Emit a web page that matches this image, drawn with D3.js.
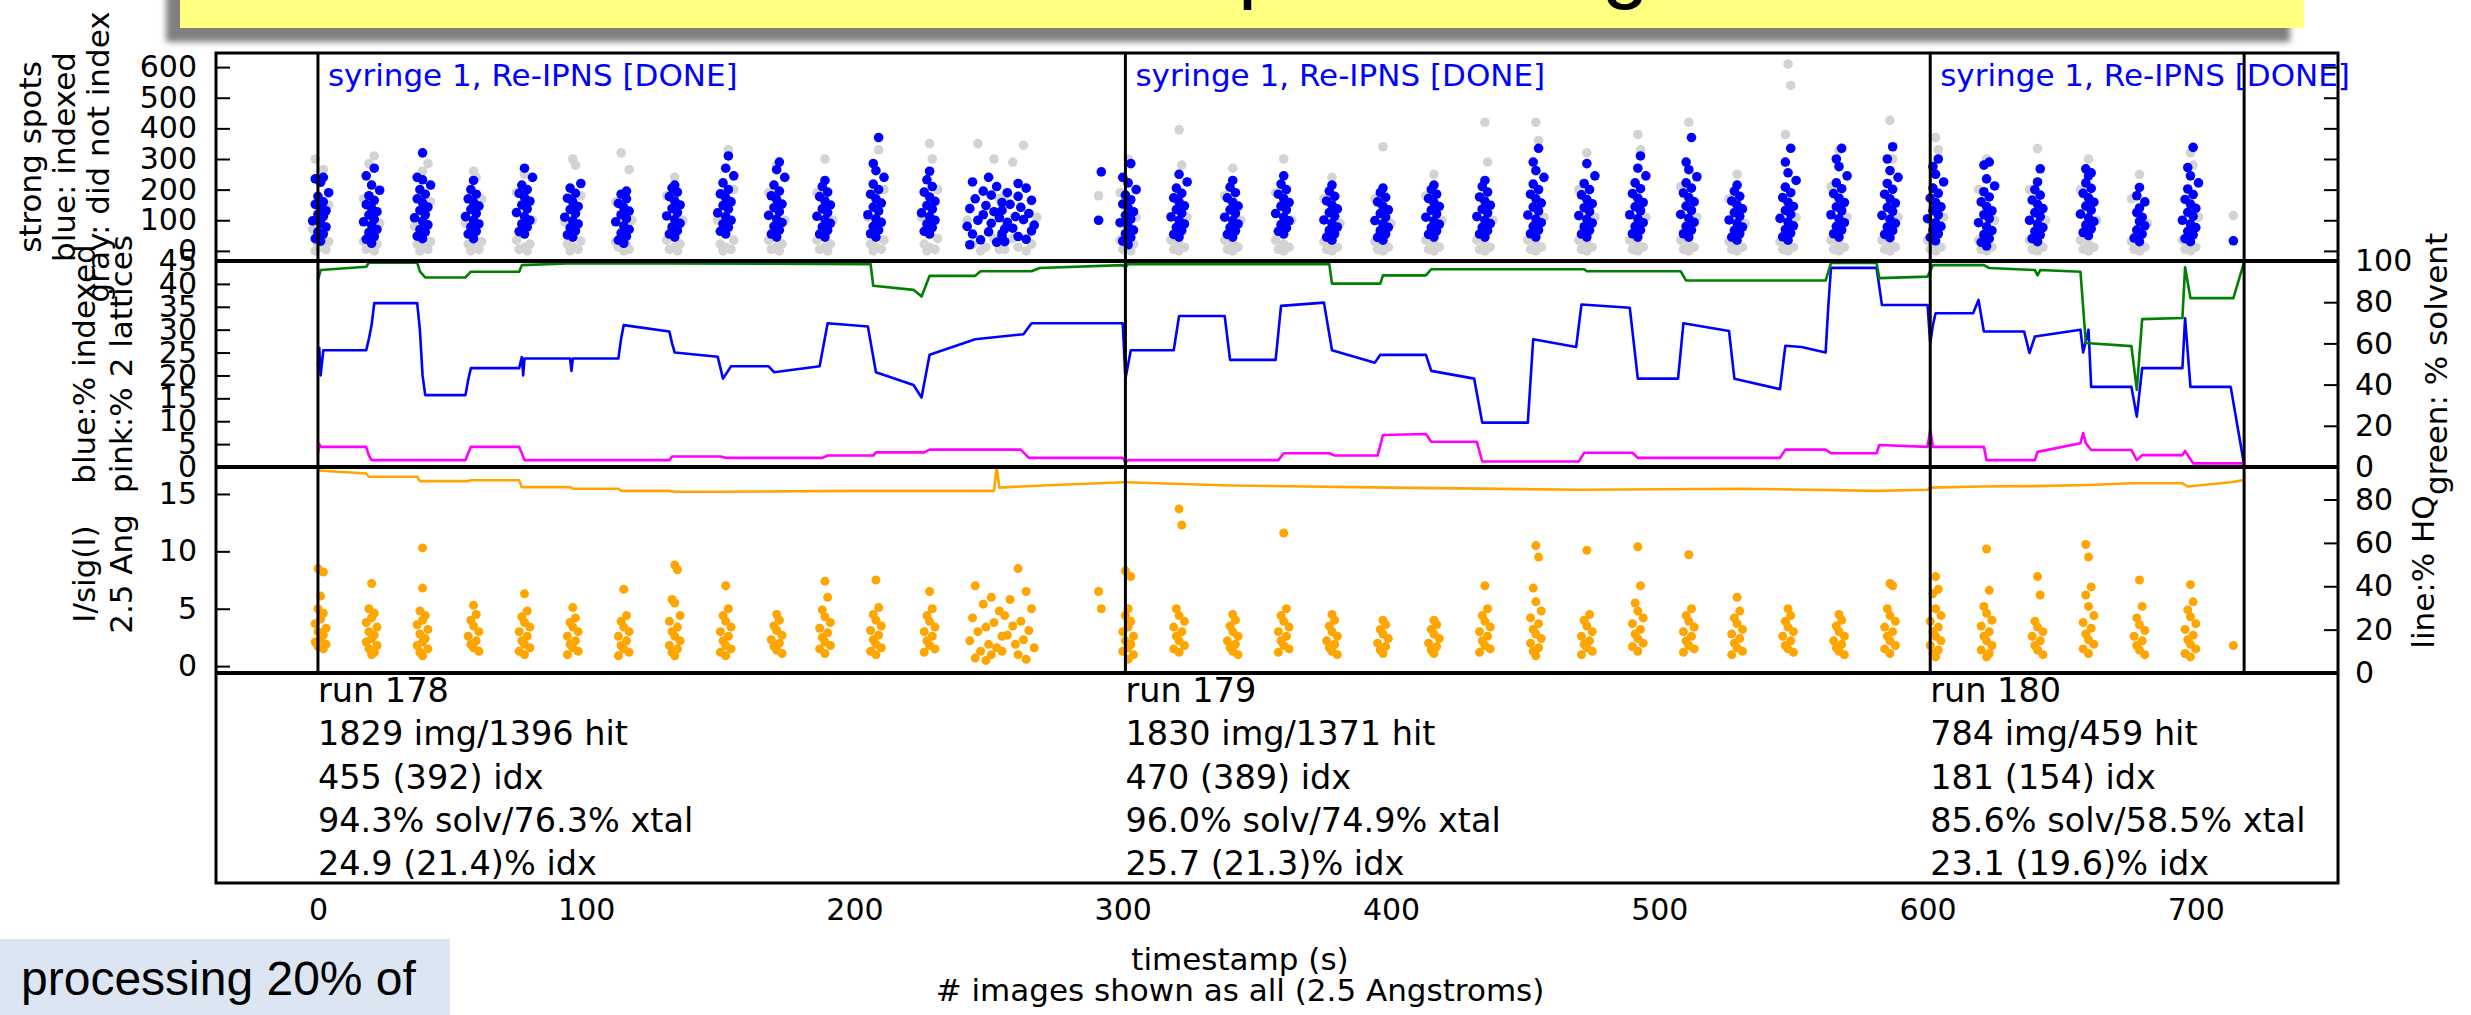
<!DOCTYPE html>
<html>
<head>
<meta charset="utf-8">
<script src="https://cdn.jsdelivr.net/npm/d3@7"></script>
<style>
body { margin: 0; background: #fff; }
svg { display: block; }
</style>
</head>
<body>
<svg id="chart"></svg>
<script>
// ---------------- data ----------------
var runStarts = [0, 301, 601], runEnd = 718;
var runStats = [
  ["run 178", "1829 img/1396 hit", "455 (392) idx", "94.3% solv/76.3% xtal", "24.9 (21.4)% idx"],
  ["run 179", "1830 img/1371 hit", "470 (389) idx", "96.0% solv/74.9% xtal", "25.7 (21.3)% idx"],
  ["run 180", "784 img/459 hit", "181 (154) idx", "85.6% solv/58.5% xtal", "23.1 (19.6)% idx"]
];
var syringeText = "syringe 1, Re-IPNS [DONE]";
var timeTicks = [0, 100, 200, 300, 400, 500, 600, 700];
var spotTicks = [0, 100, 200, 300, 400, 500, 600];
var pctTicks = [0, 5, 10, 15, 20, 25, 30, 35, 40, 45];
var solventTicks = [0, 20, 40, 60, 80, 100];
var isigTicks = [0, 5, 10, 15];
var hqTicks = [0, 20, 40, 60, 80];

// time of each burst of hits (s)
var burstTimes = [1, 20, 39, 58, 77, 95, 114, 133, 152, 171, 189, 208, 228, 249, 261, 291,
  302, 321, 341, 360, 378, 397, 416, 435, 454, 473, 492, 511, 529, 548, 567, 586,
  603, 622, 641, 660, 679, 698, 714];

// strong spots of indexed images, per burst: [offset s, spots]
var indexedSpots = [
  [[0,32],[-2,40],[1,55],[-1,62],[2,78],[0,90],[-3,98],[1,112],[-1,120],[2,131],[0,145],[-2,152],[1,160],[-1,178],[3,190],[0,224],[-2,235],[1,240]],
  [[0,25],[-2,38],[1,47],[-1,60],[2,70],[0,84],[-3,95],[1,103],[-1,117],[2,128],[0,140],[-2,151],[1,165],[-1,180],[3,198],[0,215],[-2,245],[1,270]],
  [[0,40],[-2,48],[1,62],[-1,70],[2,85],[0,97],[-3,108],[1,118],[-1,132],[2,143],[0,157],[-2,170],[1,185],[-1,200],[3,215],[0,232],[-2,240],[0,320]],
  [[0,40],[-2,55],[1,64],[-1,78],[2,88],[0,100],[-3,112],[1,122],[-1,135],[2,146],[0,158],[-2,170],[1,185],[-1,200],[0,230]],
  [[0,55],[-2,63],[1,78],[-1,88],[2,100],[0,112],[-3,125],[1,137],[-1,150],[2,162],[0,175],[-2,188],[1,200],[-1,215],[3,240],[0,270]],
  [[0,45],[-2,52],[1,65],[-1,75],[2,88],[0,98],[-3,110],[1,122],[-1,135],[2,145],[0,160],[-2,172],[1,188],[-1,205],[3,220]],
  [[0,25],[-2,35],[1,48],[-1,58],[2,70],[0,82],[-3,95],[1,105],[-1,118],[2,130],[0,142],[-2,155],[1,170],[-1,185],[1,195]],
  [[0,45],[-2,55],[1,66],[-1,78],[2,90],[0,102],[-3,114],[1,125],[-1,138],[2,150],[0,163],[-2,177],[1,192],[-1,205],[0,215]],
  [[0,55],[-2,64],[1,77],[-1,88],[2,100],[0,112],[-3,124],[1,136],[-1,148],[2,160],[0,173],[-2,186],[1,200],[-1,222],[3,245],[0,270],[1,310]],
  [[0,45],[-2,55],[1,68],[-1,80],[2,92],[0,104],[-3,116],[1,128],[-1,141],[2,153],[0,167],[-2,180],[1,195],[-1,215],[3,240],[0,265],[1,290]],
  [[0,45],[-2,55],[1,67],[-1,78],[2,90],[0,102],[-3,113],[1,125],[-1,137],[2,150],[0,163],[-2,177],[1,192],[-1,210],[0,230]],
  [[0,45],[-2,56],[1,68],[-1,80],[2,93],[0,105],[-3,118],[1,130],[-1,143],[2,156],[0,170],[-2,185],[1,200],[-1,218],[3,240],[0,262],[-1,285],[1,370]],
  [[0,55],[-2,64],[1,76],[-1,88],[2,100],[0,112],[-3,124],[1,136],[-1,148],[2,162],[0,176],[-2,192],[1,210],[-1,232],[0,260]],
  [[-6,20],[4,28],[-2,36],[6,45],[-5,55],[1,62],[7,72],[-7,80],[2,90],[-3,100],[5,108],[-1,118],[3,128],[-6,138],[0,148],[6,158],[-4,170],[2,182],[-1,195],[4,210],[-5,225],[1,240]],
  [[-5,30],[3,38],[0,47],[-6,56],[5,65],[-2,74],[6,84],[-4,93],[2,102],[-1,112],[4,122],[-6,132],[1,142],[-3,152],[5,165],[0,178],[-4,190],[3,205],[0,220]],
  [[0,100],[1,258]],
  [[0,20],[-2,32],[1,44],[-1,56],[2,68],[0,80],[-3,92],[1,104],[-1,116],[2,128],[0,140],[-2,153],[1,167],[-1,182],[3,200],[0,222],[-2,240],[1,285]],
  [[0,45],[-2,54],[1,66],[-1,77],[2,88],[0,100],[-3,111],[1,123],[-1,135],[2,147],[0,160],[-2,173],[1,188],[-1,205],[3,225],[0,250]],
  [[0,45],[-2,54],[1,65],[-1,76],[2,88],[0,99],[-3,110],[1,122],[-1,134],[2,146],[0,159],[-2,173],[1,190],[-1,208],[0,230]],
  [[0,55],[-2,64],[1,75],[-1,86],[2,98],[0,110],[-3,122],[1,134],[-1,146],[2,158],[0,171],[-2,185],[1,200],[-1,218],[0,245]],
  [[0,35],[-2,45],[1,56],[-1,67],[2,78],[0,90],[-3,101],[1,113],[-1,125],[2,137],[0,150],[-2,163],[1,178],[-1,195],[0,215]],
  [[0,35],[-2,44],[1,55],[-1,66],[2,77],[0,88],[-3,99],[1,110],[-1,122],[2,134],[0,146],[-2,160],[1,175],[-1,190],[0,205]],
  [[0,45],[-2,54],[1,65],[-1,76],[2,87],[0,98],[-3,110],[1,121],[-1,133],[2,145],[0,158],[-2,171],[1,185],[-1,200],[0,215]],
  [[0,45],[-2,55],[1,66],[-1,77],[2,89],[0,100],[-3,112],[1,124],[-1,136],[2,149],[0,162],[-2,176],[1,192],[-1,210],[0,230]],
  [[0,45],[-2,56],[1,68],[-1,80],[2,92],[0,104],[-3,117],[1,130],[-1,143],[2,156],[0,170],[-2,185],[1,200],[-1,218],[3,240],[0,262],[-1,290],[1,335]],
  [[0,45],[-2,55],[1,67],[-1,79],[2,91],[0,103],[-3,115],[1,128],[-1,141],[2,154],[0,168],[-2,183],[1,200],[-1,220],[3,245],[0,285]],
  [[0,45],[-2,56],[1,68],[-1,80],[2,92],[0,105],[-3,118],[1,131],[-1,144],[2,158],[0,172],[-2,187],[1,203],[-1,222],[3,245],[0,270],[1,310]],
  [[0,45],[-2,56],[1,68],[-1,80],[2,93],[0,106],[-3,119],[1,132],[-1,146],[2,160],[0,174],[-2,189],[1,205],[-1,222],[3,242],[0,265],[-1,290],[1,370]],
  [[0,35],[-2,45],[1,56],[-1,67],[2,78],[0,90],[-3,101],[1,113],[-1,125],[2,137],[0,150],[-2,163],[1,178],[-1,195],[0,215]],
  [[0,35],[-2,46],[1,58],[-1,70],[2,82],[0,94],[-3,106],[1,119],[-1,132],[2,145],[0,159],[-2,174],[1,190],[-1,208],[3,230],[0,255],[-1,290],[1,335]],
  [[0,45],[-2,56],[1,68],[-1,80],[2,92],[0,105],[-3,118],[1,131],[-1,144],[2,158],[0,172],[-2,187],[1,203],[-1,222],[3,245],[0,275],[-1,300],[1,335]],
  [[0,43],[-2,54],[1,66],[-1,78],[2,90],[0,103],[-3,116],[1,129],[-1,142],[2,156],[0,170],[-2,185],[1,201],[-1,220],[3,240],[0,262],[-1,300],[1,340]],
  [[0,33],[-2,44],[1,56],[-1,68],[2,80],[0,92],[-3,105],[1,118],[-1,131],[2,144],[0,158],[-2,172],[1,188],[-1,205],[3,225],[0,250],[-1,275],[1,300]],
  [[0,16],[-2,28],[1,40],[-1,53],[2,66],[0,79],[-3,92],[1,105],[-1,118],[2,131],[0,145],[-2,160],[1,176],[-1,193],[3,212],[0,235],[-1,280],[1,290]],
  [[0,30],[-2,40],[1,52],[-1,64],[2,76],[0,88],[-3,100],[1,112],[-1,125],[2,138],[0,152],[-2,166],[1,182],[-1,200],[0,225],[1,268]],
  [[0,50],[-2,60],[1,72],[-1,84],[2,96],[0,108],[-3,120],[1,133],[-1,146],[2,159],[0,173],[-2,188],[1,204],[-1,222],[0,245],[1,255],[-1,268]],
  [[0,30],[-2,42],[1,55],[-1,68],[2,82],[0,96],[1,110],[-1,125],[0,140],[2,160],[-1,180],[0,207]],
  [[0,30],[-2,40],[1,52],[-1,64],[2,76],[0,88],[-3,100],[1,113],[-1,126],[2,139],[0,153],[-2,168],[1,184],[-1,202],[3,222],[0,245],[-1,272],[1,338]],
  [[0,33]]
];

// strong spots of images that did not index, per burst
var unindexedSpots = [
  [[-2,0],[2,4],[0,12],[-1,22],[3,30],[-3,70],[3,150],[-2,300],[1,265]],
  [[1,0],[-2,5],[0,12],[2,22],[-3,30],[3,90],[-3,170],[1,310],[-1,285]],
  [[-1,0],[2,5],[0,12],[-2,22],[3,30],[-3,80],[3,160],[2,285],[0,260]],
  [[-1,0],[2,5],[0,12],[-2,22],[3,30],[-3,90],[3,170],[0,260],[1,240]],
  [[1,0],[-2,5],[0,12],[2,22],[-3,35],[3,100],[-3,190],[0,250]],
  [[-1,0],[2,5],[0,12],[-2,22],[3,32],[-3,95],[3,180],[0,300],[1,280]],
  [[0,0],[2,5],[-2,12],[1,22],[-3,30],[3,100],[-3,160],[-1,320],[2,265]],
  [[1,0],[-2,5],[0,12],[2,22],[-3,35],[3,100],[-3,180],[0,240]],
  [[-1,0],[2,5],[0,12],[-2,22],[3,35],[-3,100],[3,200],[1,330]],
  [[1,0],[-2,5],[0,12],[2,22],[-3,35],[3,100],[-3,190],[0,280]],
  [[1,0],[-2,5],[0,12],[2,22],[-3,35],[3,100],[-3,190],[0,300]],
  [[-1,0],[2,5],[0,12],[-2,22],[3,35],[-3,110],[3,200],[1,330]],
  [[-1,0],[2,5],[0,12],[-2,22],[3,40],[-3,110],[3,200],[1,300],[0,350]],
  [[-2,0],[5,5],[0,12],[-5,22],[3,40],[-7,100],[7,180],[3,300],[-3,350]],
  [[3,0],[-5,5],[0,12],[5,22],[-2,40],[7,110],[-7,170],[-2,290],[2,345]],
  [[0,180]],
  [[1,0],[-2,5],[0,12],[2,22],[-3,35],[3,110],[-3,190],[0,300]],
  [[0,0],[-2,5],[2,12],[0,22],[-3,35],[3,110],[1,280],[0,395]],
  [[0,0],[-2,5],[2,12],[0,22],[-3,35],[3,100],[-3,180],[0,270]],
  [[0,0],[-2,5],[2,12],[0,22],[-3,35],[3,100],[-3,190],[0,300]],
  [[0,0],[-2,5],[2,12],[0,22],[-3,30],[3,90],[-3,170],[0,240]],
  [[0,0],[-2,5],[2,12],[0,22],[-3,30],[3,90],[-3,170],[0,340]],
  [[0,0],[-2,5],[2,12],[0,22],[-3,35],[3,100],[-3,180],[0,250]],
  [[0,0],[-2,5],[2,12],[0,22],[-3,35],[3,100],[1,290],[0,420]],
  [[0,0],[-2,5],[2,12],[0,22],[-3,35],[3,110],[1,360],[0,420]],
  [[0,0],[-2,5],[2,12],[0,22],[-3,35],[3,110],[-3,200],[0,320]],
  [[0,0],[-2,5],[2,12],[0,22],[-3,35],[3,110],[1,330],[0,380]],
  [[0,0],[-2,5],[2,12],[0,22],[-3,35],[3,110],[-3,210],[0,420]],
  [[0,0],[-2,5],[2,12],[0,22],[-3,30],[3,90],[-3,170],[0,250]],
  [[0,0],[-2,5],[2,12],[0,22],[-3,30],[3,110],[-1,380],[1,540],[0,610]],
  [[0,0],[-2,5],[2,12],[0,22],[-3,35],[3,110],[-3,210],[0,330]],
  [[0,0],[-2,5],[2,12],[0,22],[-3,35],[3,110],[1,300],[0,426]],
  [[0,0],[-2,5],[2,12],[0,22],[-3,35],[3,110],[1,330],[0,370]],
  [[0,0],[-2,5],[2,12],[0,22],[-3,35],[3,100],[-3,200],[0,300]],
  [[0,0],[-2,5],[2,12],[0,22],[-3,35],[3,100],[-3,200],[0,334]],
  [[0,0],[-2,5],[2,12],[0,22],[-3,35],[3,100],[-3,200],[0,300]],
  [[0,0],[-2,5],[2,12],[0,22],[-3,30],[3,90],[-3,170],[0,250]],
  [[0,0],[-2,5],[2,12],[0,22],[-3,35],[3,110],[1,280],[0,320]],
  [[0,115]]
];

// I/sig(I) at 2.5 Angstrom, per burst
var isigPoints = [
  [[-1,8.5],[1,8.2],[0,6.1],[-1,5.0],[1,4.6],[0,4.1],[-2,3.7],[2,3.3],[-1,3.0],[1,2.7],[0,2.4],[-2,2.1],[2,1.9],[-1,1.7],[1,1.5]],
  [[0,7.2],[-1,5.0],[1,4.6],[0,4.2],[-2,3.8],[2,3.4],[-1,3.0],[1,2.7],[0,2.4],[-2,2.1],[2,1.8],[-1,1.5],[1,1.2],[0,1.0]],
  [[0,10.3],[0,6.8],[-1,4.8],[1,4.4],[0,4.0],[-2,3.6],[2,3.2],[-1,2.8],[1,2.4],[0,2.1],[-2,1.8],[2,1.5],[-1,1.2],[0,0.9]],
  [[0,5.3],[1,4.5],[-1,4.0],[0,3.5],[2,3.0],[-2,2.6],[1,2.2],[-1,1.9],[0,1.6],[2,1.3]],
  [[0,6.3],[1,4.8],[-1,4.3],[0,3.8],[2,3.4],[-2,3.0],[1,2.6],[-1,2.2],[0,1.9],[2,1.6],[-2,1.3],[0,1.0]],
  [[0,5.1],[1,4.2],[-1,3.8],[0,3.4],[2,3.0],[-2,2.6],[1,2.2],[-1,1.9],[0,1.6],[2,1.3],[-2,1.0]],
  [[0,6.7],[1,4.4],[-1,3.9],[0,3.4],[2,3.0],[-2,2.6],[1,2.2],[-1,1.8],[0,1.5],[2,1.2],[-2,0.9]],
  [[0,8.8],[1,8.4],[-1,5.8],[0,5.5],[2,4.4],[-2,3.9],[1,3.4],[-1,3.0],[0,2.6],[2,2.2],[-2,1.8],[1,1.5],[-1,1.2],[0,0.9]],
  [[0,7.0],[1,5.0],[-1,4.4],[0,3.9],[2,3.4],[-2,3.0],[1,2.6],[-1,2.2],[0,1.8],[2,1.5],[-2,1.2],[0,0.9]],
  [[0,4.5],[1,4.0],[-1,3.5],[0,3.1],[2,2.7],[-2,2.3],[1,2.0],[-1,1.7],[0,1.4],[2,1.1]],
  [[0,7.4],[1,6.0],[-1,4.9],[0,4.3],[2,3.8],[-2,3.3],[1,2.9],[-1,2.5],[0,2.1],[2,1.8],[-2,1.5],[0,1.1]],
  [[0,7.5],[1,5.1],[-1,4.5],[0,4.0],[2,3.5],[-2,3.1],[1,2.7],[-1,2.3],[0,1.9],[2,1.6],[-2,1.3],[0,1.0]],
  [[0,6.5],[1,5.0],[-1,4.4],[0,3.9],[2,3.4],[-2,3.0],[1,2.6],[-1,2.2],[0,1.8],[2,1.5],[-2,1.2]],
  [[-4,7.0],[2,6.0],[-1,5.4],[5,4.8],[-5,4.2],[3,3.8],[0,3.4],[-3,3.0],[6,2.6],[-6,2.2],[1,1.9],[4,1.6],[-2,1.3],[2,1.0],[-4,0.7],[0,0.5]],
  [[0,8.5],[3,6.5],[-3,5.8],[5,5.0],[-5,4.4],[1,3.9],[-2,3.5],[4,3.1],[-4,2.7],[2,2.3],[-1,1.9],[6,1.6],[-6,1.3],[0,1.0],[3,0.6]],
  [[0,6.5],[1,5.0]],
  [[-1,8.3],[1,7.8],[0,5.0],[-1,4.4],[1,3.9],[0,3.4],[-2,3.0],[2,2.6],[-1,2.2],[1,1.9],[0,1.6],[-2,1.3],[2,1.0],[0,0.6]],
  [[0,13.7],[1,12.3],[-1,5.0],[0,4.4],[2,3.9],[-2,3.4],[1,3.0],[-1,2.6],[0,2.2],[2,1.8],[-2,1.5],[0,1.2]],
  [[0,4.5],[1,4.0],[-1,3.5],[0,3.0],[2,2.6],[-2,2.2],[1,1.9],[-1,1.6],[0,1.3],[2,1.0]],
  [[0,11.6],[1,5.0],[-1,4.4],[0,3.9],[2,3.4],[-2,3.0],[1,2.6],[-1,2.2],[0,1.8],[2,1.5],[-2,1.2]],
  [[0,4.5],[1,4.0],[-1,3.5],[0,3.0],[2,2.6],[-2,2.2],[1,1.9],[-1,1.6],[0,1.3],[2,1.0]],
  [[0,4.0],[1,3.6],[-1,3.2],[0,2.8],[2,2.4],[-2,2.0],[1,1.7],[-1,1.4],[0,1.1]],
  [[0,4.0],[1,3.6],[-1,3.2],[0,2.8],[2,2.4],[-2,2.0],[1,1.7],[-1,1.4],[0,1.1]],
  [[0,7.0],[1,5.0],[-1,4.4],[0,3.9],[2,3.4],[-2,3.0],[1,2.6],[-1,2.2],[0,1.8],[2,1.5],[-2,1.2]],
  [[0,10.5],[1,9.5],[-1,6.8],[0,5.6],[2,4.8],[-2,4.2],[1,3.7],[-1,3.2],[0,2.8],[2,2.4],[-2,2.0],[1,1.6],[-1,1.3],[0,0.9]],
  [[0,10.1],[1,4.5],[-1,4.0],[0,3.5],[2,3.0],[-2,2.6],[1,2.2],[-1,1.9],[0,1.6],[2,1.3],[-2,1.0]],
  [[0,10.4],[1,7.0],[-1,5.5],[0,4.8],[2,4.2],[-2,3.7],[1,3.2],[-1,2.8],[0,2.4],[2,2.0],[-2,1.7],[0,1.3]],
  [[0,9.7],[1,5.0],[-1,4.4],[0,3.9],[2,3.4],[-2,3.0],[1,2.6],[-1,2.2],[0,1.8],[2,1.5],[-2,1.2]],
  [[0,6.0],[1,4.8],[-1,4.2],[0,3.7],[2,3.2],[-2,2.8],[1,2.4],[-1,2.0],[0,1.6],[2,1.3],[-2,1.0]],
  [[0,5.0],[1,4.4],[-1,3.9],[0,3.4],[2,3.0],[-2,2.6],[1,2.2],[-1,1.8],[0,1.5],[2,1.2]],
  [[0,4.5],[1,4.0],[-1,3.5],[0,3.0],[2,2.6],[-2,2.2],[1,1.9],[-1,1.6],[0,1.3],[2,1.0]],
  [[0,7.2],[1,7.0],[-1,5.0],[0,4.4],[2,3.9],[-2,3.4],[1,3.0],[-1,2.6],[0,2.2],[2,1.8],[-2,1.5],[0,1.1]],
  [[0,7.8],[1,6.7],[-1,6.3],[0,5.0],[2,4.4],[-2,3.9],[1,3.4],[-1,3.0],[0,2.6],[2,2.2],[-2,1.8],[1,1.4],[-1,1.1],[0,0.8]],
  [[0,10.2],[1,6.6],[-1,5.2],[0,4.6],[2,4.0],[-2,3.5],[1,3.0],[-1,2.6],[0,2.2],[2,1.8],[-2,1.4],[1,1.1],[0,0.8]],
  [[0,7.8],[1,6.2],[-1,3.9],[0,3.4],[2,3.0],[-2,2.6],[1,2.2],[-1,1.8],[0,1.4],[2,1.0]],
  [[-1,10.6],[0,9.5],[1,6.9],[-1,6.2],[0,5.2],[2,4.4],[-2,3.8],[1,3.3],[-1,2.8],[0,2.3],[2,1.9],[-2,1.5],[0,1.1]],
  [[0,7.5],[1,5.2],[-1,4.2],[0,3.6],[2,3.1],[-2,2.6],[1,2.2],[-1,1.8],[0,1.4],[2,1.0]],
  [[0,7.1],[1,5.6],[-1,4.9],[0,4.3],[2,3.7],[-2,3.2],[1,2.7],[-1,2.3],[0,1.9],[2,1.5],[-2,1.1],[0,0.8]],
  [[0,1.8]]
];

// running percentages: [time s, value]
var pctIndexed = [[0,22],[0.5,26],[1,20],[2,25.5],[18,25.5],[19,28],[20,31],[21,35.8],[37,35.8],[38,30],[39,20],[40,15.7],
  [55,15.7],[56,19],[57,21.6],[75,21.6],[76,24],[76.5,20],[77,23.7],[94,23.7],[94.5,21],[95,23.7],[112,23.7],[113,28],
  [114,31],[131,29.6],[132,27],[133,25],[149,24.1],[151,19.3],[154,22],[168,22],[170,20.7],[187,22],[190,31.4],[205,30.7],
  [208,20.7],[222,17.9],[225,15.2],[228,24.5],[245,27.9],[263,29],[266,31.4],[300,31.4],
  [301,19.3],[303,25.5],[319,25.5],[321,33],[338,33],[340,23.4],[357,23.4],[359,35.2],[375,35.9],[378,25.5],[394,22.8],
  [396,24.5],[413,24.5],[415,21],[431,19.3],[434,9.7],[451,9.7],[453,27.9],[469,26.2],[471,35.5],[489,34.8],[492,19.3],
  [507,19.3],[509,31.4],[526,29.7],[528,19.3],[545,17],[547,26.5],[553,26.2],[562,25],[563,35],[564,43.5],[581,43.5],
  [583,35.4],[600,35.4],[601,27],[602,31],[603,33.6],[617,33.6],[619,36.5],[621,29.6],[636,29.6],[638,24.9],[640,28.5],
  [657,30],[658,25],[660,30],[661,17.5],[676,17.5],[678,11],[680,21.6],[695,21.6],[696,32.5],[698,17.5],[713,17.5],[718,0.5]];

var pctTwoLattices = [[0,3],[0.5,5],[1,4.4],[18,4.4],[19,2.5],[20,1.5],[55,1.5],[56,3],[57,4.4],[75,4.4],[76,3],[77,1.5],
  [131,1.5],[132,2.3],[150,2.3],[152,2],[188,2],[190,2.5],[207,2.5],[208,3.2],[226,3.2],[228,3.8],[262,3.8],[265,2],[300,2],
  [301,1],[302,1.5],[358,1.5],[360,3],[377,3],[379,2.5],[395,2.5],[397,7],[413,7.2],[415,5.5],[432,5.5],[434,1.2],
  [470,1.2],[472,3.1],[490,3.1],[492,2],[545,2],[547,3.8],[562,3.8],[564,3],[581,3],[582,4.8],[600,4.4],[601,8.1],[602,4.4],
  [621,4.4],[622,1.5],[640,1.5],[641,3.3],[657,5.2],[658,7.4],[659,5.2],[661,3.7],[676,3.7],[678,1.5],[680,2.6],[695,2.6],
  [696,3.5],[699,0.8],[718,0.8]];

var pctSolvent = [[0,90.8],[1,95.6],[18,97.2],[19,99.2],[37,99.2],[38,95],[40,92],[55,92],[57,94.8],[75,94.8],[76,98],
  [95,98.9],[206,98.5],[207,88],[222,86],[225,82.8],[228,92.8],[245,92.8],[247,95],[266,95],[269,96.6],[300,98],
  [301,97],[302,98.5],[377,98.5],[378,89],[396,89],[397,93],[413,93],[415,96],[472,96],[473,95],[508,95],[510,90.5],
  [562,90.5],[564,99],[581,99],[582,91.7],[600,92.4],
  [602,98],[621,98],[623,96.6],[640,95.6],[641,93],[642,95.6],[657,94.8],[659,60.2],[676,58.7],[678,37.4],[680,71.8],
  [695,72.3],[696,97],[698,82],[714,82],[718,99.5]];

var pctHighQuality = [[0,93.4],[18,92],[19,90.5],[37,90.5],[38,88.5],[56,88.5],[57,88.9],[75,88.9],[76,85.7],[94,85.7],
  [95,85],[112,85],[113,84],[131,84],[133,83.6],[150,83.6],[200,84],[252,84],[253,95],[254,85.5],[270,86.5],[300,88],
  [301,88],[340,86.5],[400,85.5],[470,84.5],[530,85],[581,84],[600,84.5],[601,85.5],[620,86],[640,86.2],[660,86.7],
  [676,87.5],[695,87.5],[697,86],[713,88],[718,89]];

// ---------------- drawing ----------------
var W = 2471, H = 1015;
var left = 216, right = 2338;
var p1 = [53, 261], p2 = [261, 467], p3 = [467, 673], p4 = [673, 883];
var FONT = "DejaVu Sans";

var svg = d3.select("#chart").attr("width", W).attr("height", H)
  .attr("viewBox", "0 0 " + W + " " + H);

var defs = svg.append("defs");
defs.append("filter").attr("id", "blur").attr("x", "-5%").attr("y", "-50%").attr("width", "110%").attr("height", "200%")
  .append("feGaussianBlur").attr("stdDeviation", 3);
[p1, p2, p3].forEach(function (p, i) {
  defs.append("clipPath").attr("id", "clip" + i).append("rect")
    .attr("x", left).attr("y", p[0]).attr("width", right - left).attr("height", p[1] - p[0]);
});

// slide title banner (cut off at the top of the screenshot)
svg.append("rect").attr("x", 166).attr("y", -20).attr("width", 2124).attr("height", 62)
  .attr("fill", "#7f7f7f").attr("filter", "url(#blur)");
svg.append("rect").attr("x", 180).attr("y", -20).attr("width", 2124).attr("height", 48).attr("fill", "#ffff80");
svg.append("text").attr("x", 1238).attr("y", -8).attr("font-family", "Liberation Sans")
  .attr("font-size", 85).attr("fill", "#000").text("processing");

var x = d3.scaleLinear().domain([-38, 753]).range([left, right]);
var ySpots = d3.scaleLinear().domain([-33, 646]).range([p1[1], p1[0]]);
var yPct = d3.scaleLinear().domain([0, 45]).range([p2[1], p2[0]]);
var ySolv = d3.scaleLinear().domain([0, 100]).range([p2[1], p2[0]]);
var yIsig = d3.scaleLinear().domain([-0.6, 17.35]).range([p3[1], p3[0]]);
var yHQ = d3.scaleLinear().domain([0, 95]).range([p3[1], p3[0]]);

function points(groups) {
  var out = [];
  groups.forEach(function (g, i) {
    g.forEach(function (p) { out.push([burstTimes[i] + p[0], p[1]]); });
  });
  return out;
}

function dots(clip, data, yScale, color, r) {
  svg.append("g").attr("clip-path", "url(#" + clip + ")")
    .selectAll("circle").data(data).enter().append("circle")
    .attr("cx", function (d) { return x(d[0]); })
    .attr("cy", function (d) { return yScale(d[1]); })
    .attr("r", r).attr("fill", color);
}

function trace(clip, data, yScale, color) {
  var line = d3.line().x(function (d) { return x(d[0]); }).y(function (d) { return yScale(d[1]); });
  svg.append("path").attr("clip-path", "url(#" + clip + ")").datum(data)
    .attr("d", line).attr("fill", "none").attr("stroke", color)
    .attr("stroke-width", 2.6).attr("stroke-linejoin", "round");
}

// panel 1: strong spots
dots("clip0", points(unindexedSpots), ySpots, "#d3d3d3", 4.8);
dots("clip0", points(indexedSpots), ySpots, "#0000ff", 4.8);

// panel 2: percentages
trace("clip1", pctIndexed, yPct, "#0000ff");
trace("clip1", pctTwoLattices, yPct, "#ff00ff");
trace("clip1", pctSolvent, ySolv, "#008000");

// panel 3: I/sig(I)
dots("clip2", points(isigPoints), yIsig, "#ffa500", 4.5);
trace("clip2", pctHighQuality, yHQ, "#ffa500");

// run boundaries
svg.append("g").selectAll("line").data(runStarts.concat([runEnd])).enter().append("line")
  .attr("x1", function (d) { return x(d); }).attr("x2", function (d) { return x(d); })
  .attr("y1", p1[0]).attr("y2", p3[1]).attr("stroke", "#000").attr("stroke-width", 3);

// syringe labels
svg.append("g").selectAll("text").data(runStarts).enter().append("text")
  .attr("x", function (d) { return x(d) + 10; }).attr("y", 86)
  .attr("font-family", FONT).attr("font-size", 31).attr("fill", "#0000ff")
  .text(syringeText);

// axes
function yAxis(scale, ticks, side, showLabels) {
  var ax = (side === "left" ? d3.axisLeft(scale) : d3.axisRight(scale))
    .tickValues(ticks).tickSizeInner(-14).tickSizeOuter(0).tickPadding(side === "left" ? 19 : 17);
  if (!showLabels) ax.tickFormat("");
  var g = svg.append("g").attr("transform", "translate(" + (side === "left" ? left : right) + ",0)").call(ax);
  g.select(".domain").remove();
  g.selectAll(".tick line").attr("stroke", "#000").attr("stroke-width", 2);
  g.selectAll(".tick text").attr("font-family", FONT).attr("font-size", 30).attr("fill", "#000");
}
yAxis(ySpots, spotTicks, "left", true);
yAxis(ySpots, spotTicks, "right", false);
yAxis(yPct, pctTicks, "left", true);
yAxis(ySolv, solventTicks, "right", true);
yAxis(yIsig, isigTicks, "left", true);
yAxis(yHQ, hqTicks, "right", true);

var xAxis = d3.axisBottom(x).tickValues(timeTicks).tickSize(0).tickPadding(16);
var gx = svg.append("g").attr("transform", "translate(0," + p4[1] + ")").call(xAxis);
gx.select(".domain").remove();
gx.selectAll(".tick text").attr("font-family", FONT).attr("font-size", 30).attr("fill", "#000");

// frames
svg.append("rect").attr("x", left).attr("y", p1[0]).attr("width", right - left).attr("height", p4[1] - p1[0])
  .attr("fill", "none").attr("stroke", "#000").attr("stroke-width", 3);
[p2[0], p3[0], p4[0]].forEach(function (yy) {
  svg.append("line").attr("x1", left).attr("x2", right).attr("y1", yy).attr("y2", yy)
    .attr("stroke", "#000").attr("stroke-width", 4);
});

// run summaries
runStats.forEach(function (lines, i) {
  svg.append("g").selectAll("text").data(lines).enter().append("text")
    .attr("x", x(runStarts[i])).attr("y", function (d, j) { return 702 + j * 43.3; })
    .attr("font-family", FONT).attr("font-size", 33.5).attr("fill", "#000")
    .text(function (d) { return d; });
});

// axis titles
function vlabel(lines, x0, step, cy) {
  lines.forEach(function (t, i) {
    svg.append("text").attr("transform", "translate(" + (x0 + i * step) + "," + cy + ") rotate(-90)")
      .attr("text-anchor", "middle").attr("dy", "0.36em")
      .attr("font-family", FONT).attr("font-size", 31).attr("fill", "#000").text(t);
  });
}
vlabel(["strong spots", "blue: indexed", "gray: did not index"], 30, 34, 157);
vlabel(["blue:% indexed", "pink:% 2 lattices"], 84, 37, 364);
vlabel(["I/sig(I)", "2.5 Ang"], 84, 37, 574);
vlabel(["green: % solvent"], 2436, 0, 364);
vlabel(["line:% HQ"], 2423, 0, 572);

svg.append("text").attr("x", 1240).attr("y", 970).attr("text-anchor", "middle")
  .attr("font-family", FONT).attr("font-size", 31).attr("fill", "#000").text("timestamp (s)");
svg.append("text").attr("x", 1240).attr("y", 1001).attr("text-anchor", "middle")
  .attr("font-family", FONT).attr("font-size", 31).attr("fill", "#000").text("# images shown as all (2.5 Angstroms)");

// slide note box
svg.append("rect").attr("x", 0).attr("y", 939).attr("width", 450).attr("height", 76).attr("fill", "#dce6f2");
svg.append("text").attr("x", 21).attr("y", 995).attr("font-family", "Liberation Sans")
  .attr("font-size", 48).attr("fill", "#000").text("processing 20% of");
</script>
</body>
</html>
